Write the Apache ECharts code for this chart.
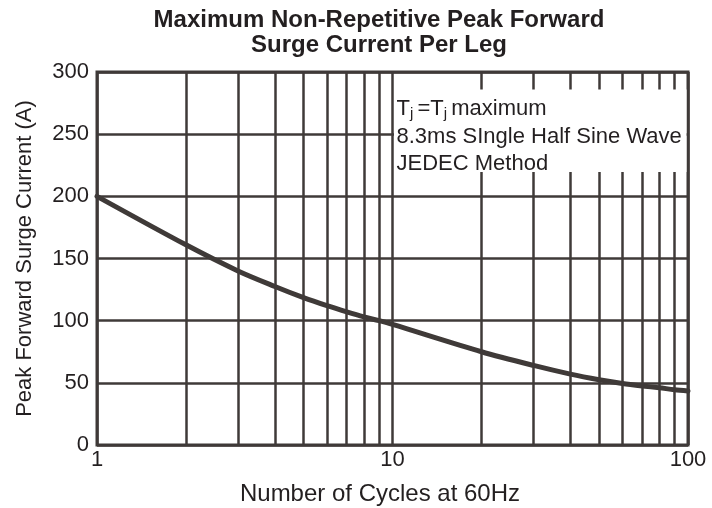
<!DOCTYPE html>
<html>
<head>
<meta charset="utf-8">
<script src="https://cdn.jsdelivr.net/npm/echarts@6/dist/echarts.min.js"></script>
<style>
html,body{margin:0;padding:0;background:#fff;}
#chart{width:712px;height:508px;}
</style>
</head>
<body>
<div id="chart"></div>
<script>
// Data
var cycles  = [1, 2, 3, 4, 5, 6, 7, 8, 9, 10, 20, 30, 40, 50, 60, 70, 80, 90, 100];
var current = [200, 161, 140, 127.5, 118.5, 112, 107, 103, 100, 97, 75, 64, 57, 52.5, 49.5, 47.5, 46, 44.5, 43.5];
var minorGridX = [2, 3, 4, 5, 6, 7, 8, 9, 20, 30, 40, 50, 60, 70, 80, 90];
var titleText = 'Maximum Non-Repetitive Peak Forward\nSurge Current Per Leg';
var xName = 'Number of Cycles at 60Hz';
var yName = 'Peak Forward Surge Current (A)';
var noteLines = ['T{j|j }=T{j|j }maximum', '8.3ms SIngle Half Sine Wave', 'JEDEC Method'];

var LINE = '#3f3a38';
var TXT = '#231f20';
var FONT = 'Liberation Sans, Arial, Helvetica, sans-serif';

var chart = echarts.init(document.getElementById('chart'), null, {renderer: 'canvas'});

var option = {
  animation: false,
  backgroundColor: '#ffffff',
  textStyle: {fontFamily: FONT},
  title: [{
    text: titleText,
    left: 374, top: 3, textAlign: 'center',
    textStyle: {fontFamily: FONT, fontSize: 24, fontWeight: 'bold', color: TXT, lineHeight: 25}
  }, {
    text: xName,
    left: 375, top: 477, textAlign: 'center',
    textStyle: {fontFamily: FONT, fontSize: 24, fontWeight: 'normal', color: TXT}
  }],
  grid: {
    left: 97, right: 24, top: 72, bottom: 63,
    show: true, borderColor: LINE, borderWidth: 3, backgroundColor: '#fff'
  },
  xAxis: {
    type: 'log', logBase: 10, min: 1, max: 100,
    axisLine: {show: false}, axisTick: {show: false},
    axisLabel: {fontFamily: FONT, fontSize: 22, color: TXT, margin: 4},
    splitLine: {show: true, lineStyle: {color: LINE, width: 2.5}}
  },
  yAxis: {
    type: 'value', min: 0, max: 300, interval: 50,
    name: yName, nameLocation: 'middle', nameGap: 61,
    nameTextStyle: {fontFamily: FONT, fontSize: 22, color: TXT},
    axisLine: {show: false}, axisTick: {show: false},
    axisLabel: {fontFamily: FONT, fontSize: 22, color: TXT, margin: 8},
    splitLine: {show: true, lineStyle: {color: LINE, width: 2.5}}
  },
  series: [{
    type: 'line', data: [], z: 1, silent: true,
    markLine: {
      silent: true, symbol: 'none', animation: false,
      label: {show: false},
      lineStyle: {color: LINE, width: 2.5, type: 'solid'},
      data: minorGridX.map(function (v) { return {xAxis: v}; })
    }
  }, {
    type: 'line', z: 3,
    data: cycles.map(function (c, i) { return [c, current[i]]; }),
    smooth: 0.3, showSymbol: false, symbol: 'none',
    lineStyle: {color: LINE, width: 5, cap: 'round'}
  }]
};
chart.setOption(option);

// annotation box (white panel hiding grid lines behind the note)
var p10 = chart.convertToPixel({xAxisIndex: 0}, 10);
var p100 = chart.convertToPixel({xAxisIndex: 0}, 100);
var yTop = chart.convertToPixel({yAxisIndex: 0}, 286);
var yBot = chart.convertToPixel({yAxisIndex: 0}, 219.5);

chart.setOption({
  graphic: [{
    type: 'rect', z: 50, silent: true,
    shape: {x: p10 + 1.5, y: yTop, width: (p100 - 1.5) - (p10 + 1.5), height: yBot - yTop},
    style: {fill: '#ffffff'}
  }, {
    type: 'text', z: 51, silent: true,
    x: p10 + 4, y: yTop + 6,
    style: {
      text: noteLines.join('\n'),
      fontFamily: FONT, fontSize: 22, fill: TXT, lineHeight: 27.5,
      rich: {
        j: {fontFamily: FONT, fontSize: 15, fill: TXT, lineHeight: 27.5, padding: [9, 0, 0, 0]}
      }
    }
  }]
});
</script>
</body>
</html>
